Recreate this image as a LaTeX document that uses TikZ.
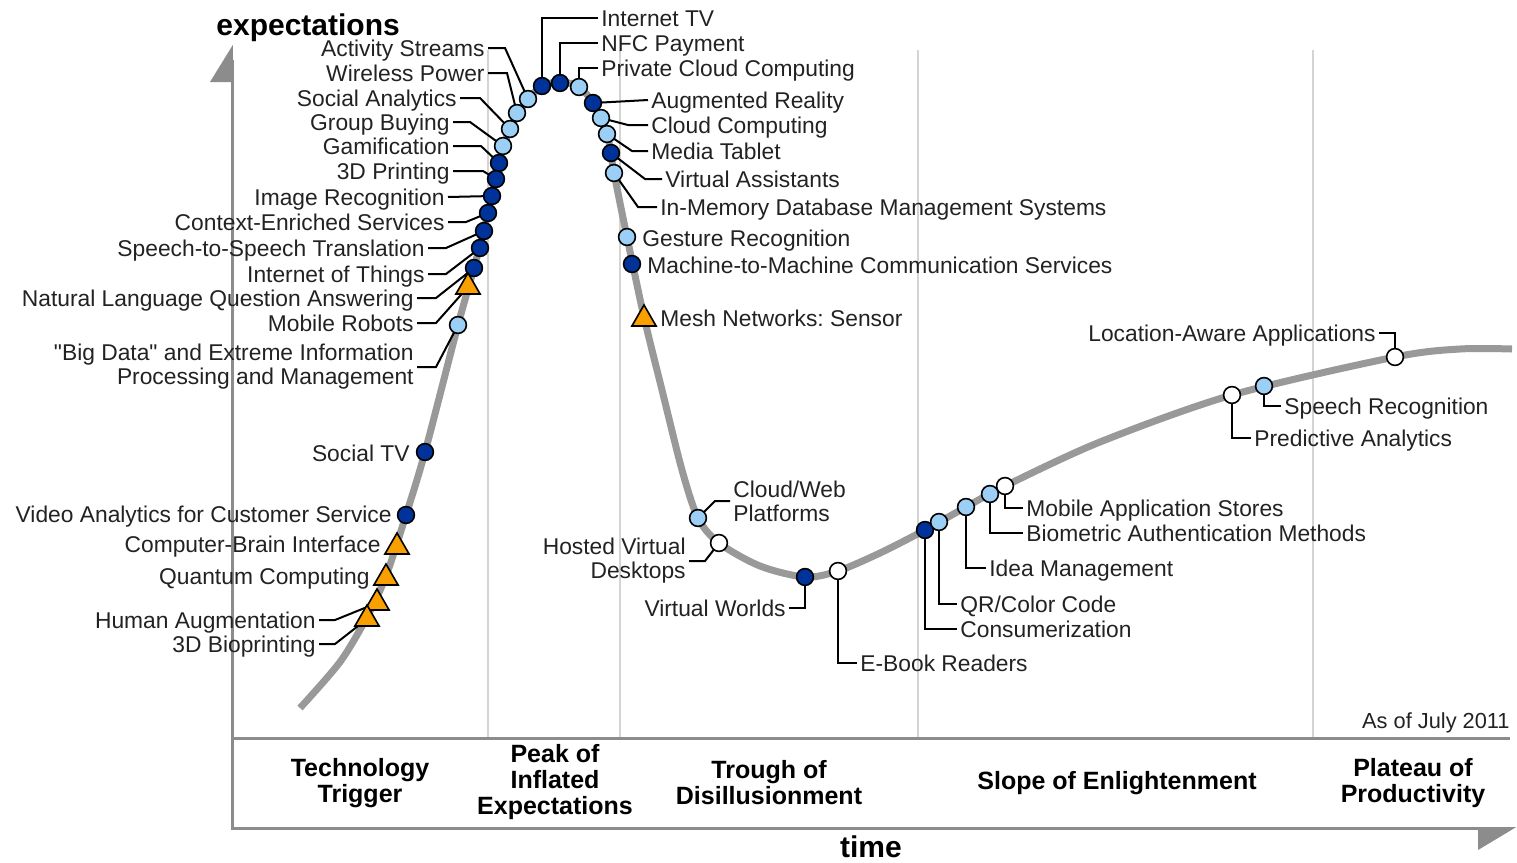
\documentclass[tikz,border=0pt]{standalone}
\usepackage{fontspec}
\setmainfont{Liberation Sans}
\usetikzlibrary{shapes.geometric}
\definecolor{dkb}{HTML}{003399}
\definecolor{ltb}{HTML}{9CCFF5}
\definecolor{org}{HTML}{F9A000}
\definecolor{crv}{HTML}{999999}
\definecolor{axc}{HTML}{8C8C8C}
\definecolor{dvc}{HTML}{D4D4D4}
\definecolor{txt}{HTML}{222222}
\pgfdeclarelayer{bg}
\pgfsetlayers{bg,main}
\frenchspacing
\tikzset{
 mk/.style={circle, draw=black, line width=0.8pt, minimum size=8.4pt, inner sep=0pt},
 dk/.style={mk, fill=dkb},
 lt/.style={mk, fill=ltb},
 wt/.style={mk, fill=white},
 tri/.style={regular polygon, regular polygon sides=3, draw=black, line width=0.8pt, fill=org, minimum size=14pt, inner sep=0pt},
 lbl/.style={font=\fontsize{11.4}{12}\selectfont, text=txt, inner xsep=1.5pt, inner ysep=0pt, text height=8.2pt, text depth=0pt},
 lbltwo/.style={font=\fontsize{11.4}{12}\selectfont, text=txt, inner xsep=1.5pt, inner ysep=0pt},
 lead/.style={draw=black, line width=1pt},
 phase/.style={font=\fontsize{12.5}{13}\selectfont\bfseries, text=black, align=center, inner sep=0pt},
 axlbl/.style={font=\fontsize{15}{18}\selectfont\bfseries, text=black, inner sep=0pt},
}
\begin{document}
\begin{tikzpicture}[x=0.5pt,y=-0.5pt]
\useasboundingbox (0,0) rectangle (1517,863);

% ---------- markers ----------
\node[lt] (mAS) at (528,99) {};
\node[lt] (mWP) at (517,113) {};
\node[lt] (mSA) at (510,129) {};
\node[lt] (mGB) at (503,146) {};
\node[dk] (mGam) at (499,163) {};
\node[dk] (m3DP) at (496,179) {};
\node[dk] (mIR) at (492,196) {};
\node[dk] (mCES) at (488,213) {};
\node[dk] (mSST) at (484,231) {};
\node[dk] (mIoT) at (480,248) {};
\node[dk] (mNLQ) at (474,268) {};
\node[tri] (mMR) at (468,287) {};
\node[lt] (mBD) at (458,325) {};
\node[dk] (mSTV) at (425,452) {};
\node[dk] (mVA) at (406,515) {};
\node[tri] (mCBI) at (397,547) {};
\node[tri] (mQC) at (386,578) {};
\node[tri] (mHA) at (377,603) {};
\node[tri] (m3BP) at (367,619) {};

\node[dk] (mITV) at (542,86) {};
\node[dk] (mNFC) at (560,83) {};
\node[lt] (mPCC) at (579,87) {};
\node[dk] (mAR) at (593,103) {};
\node[lt] (mCC) at (601,118) {};
\node[lt] (mMT) at (607,134) {};
\node[dk] (mVAs) at (611,153) {};
\node[lt] (mIMDB) at (614,173) {};
\node[lt] (mGR) at (627,237) {};
\node[dk] (mM2M) at (632,264) {};
\node[tri] (mMesh) at (644,319) {};

\node[lt] (mCWP) at (698,518) {};
\node[wt] (mHVD) at (719,543) {};
\node[dk] (mVW) at (805,577) {};
\node[wt] (mEBR) at (838,571) {};
\node[dk] (mCon) at (925,530) {};
\node[lt] (mQR) at (939,522) {};
\node[lt] (mIM) at (966,507) {};
\node[lt] (mBAM) at (990,494) {};
\node[wt] (mMAS) at (1005,486) {};
\node[wt] (mPA) at (1232,395) {};
\node[lt] (mSR) at (1264,386) {};
\node[wt] (mLAA) at (1395,357) {};

% ---------- labels (left side) ----------
\node[lbl, anchor=east] (lAS) at (488,48) {Activity Streams};
\node[lbl, anchor=east] (lWP) at (488,73) {Wireless Power};
\node[lbl, anchor=east] (lSA) at (460,98) {Social Analytics};
\node[lbl, anchor=east] (lGB) at (453,122) {Group Buying};
\node[lbl, anchor=east] (lGam) at (453,146) {Gamification};
\node[lbl, anchor=east] (l3DP) at (453,171) {3D Printing};
\node[lbl, anchor=east] (lIR) at (448,197) {Image Recognition};
\node[lbl, anchor=east] (lCES) at (448,222) {Context-Enriched Services};
\node[lbl, anchor=east] (lSST) at (428,248) {Speech-to-Speech Translation};
\node[lbl, anchor=east] (lIoT) at (428,274) {Internet of Things};
\node[lbl, anchor=east] (lNLQ) at (417,298) {Natural Language Question Answering};
\node[lbl, anchor=east] (lMR) at (417,323) {Mobile Robots};
\node[lbltwo, anchor=east, align=right] (lBD) at (417,367) {\textquotedbl Big Data\textquotedbl{} and Extreme Information\\Processing and Management};
\node[lbl, anchor=east] (lSTV) at (413,453) {Social TV};
\node[lbl, anchor=east] (lVA) at (395,514) {Video Analytics for Customer Service};
\node[lbl, anchor=east] (lCBI) at (384,544) {Computer-Brain Interface};
\node[lbl, anchor=east] (lQC) at (373,576) {Quantum Computing};
\node[lbl, anchor=east] (lHA) at (319,620) {Human Augmentation};
\node[lbl, anchor=east] (l3BP) at (319,644) {3D Bioprinting};

% ---------- labels (right side) ----------
\node[lbl, anchor=west] (lITV) at (598,18) {Internet TV};
\node[lbl, anchor=west] (lNFC) at (598,43) {NFC Payment};
\node[lbl, anchor=west] (lPCC) at (598,68) {Private Cloud Computing};
\node[lbl, anchor=west] (lAR) at (648,100) {Augmented Reality};
\node[lbl, anchor=west] (lCC) at (648,125) {Cloud Computing};
\node[lbl, anchor=west] (lMT) at (648,151) {Media Tablet};
\node[lbl, anchor=west] (lVAs) at (662,179) {Virtual Assistants};
\node[lbl, anchor=west] (lIMDB) at (657,207) {In-Memory Database Management Systems};
\node[lbl, anchor=west] (lGR) at (639,238) {Gesture Recognition};
\node[lbl, anchor=west] (lM2M) at (644,265) {Machine-to-Machine Communication Services};
\node[lbl, anchor=west] (lMesh) at (657,318) {Mesh Networks: Sensor};
\node[lbltwo, anchor=west, align=left] (lCWP) at (730,501) {Cloud/Web\\Platforms};
\node[lbltwo, anchor=east, align=right] (lHVD) at (689,561) {Hosted Virtual\\Desktops};
\node[lbl, anchor=east] (lVW) at (789,608) {Virtual Worlds};
\node[lbl, anchor=west] (lEBR) at (857,663) {E-Book Readers};
\node[lbl, anchor=west] (lQR) at (957,604) {QR/Color Code};
\node[lbl, anchor=west] (lCon) at (957,629) {Consumerization};
\node[lbl, anchor=west] (lIM) at (986,568) {Idea Management};
\node[lbl, anchor=west] (lMAS) at (1023,508) {Mobile Application Stores};
\node[lbl, anchor=west] (lBAM) at (1023,533) {Biometric Authentication Methods};
\node[lbl, anchor=west] (lSR) at (1281,406) {Speech Recognition};
\node[lbl, anchor=west] (lPA) at (1251,438) {Predictive Analytics};
\node[lbl, anchor=east] (lLAA) at (1379,333) {Location-Aware Applications};

% ---------- axis texts and phases ----------
\node[axlbl, anchor=base west] (ylab) at (216,35) {expectations};
\node[axlbl, anchor=base] (xlab) at (871,857) {time};
\node[font=\fontsize{10.9}{12}\selectfont, text=txt, anchor=base east, inner sep=0pt] (asof) at (1510,728) {As of July 2011};
\node[phase] (pTT) at (360,783) {Technology\\Trigger};
\node[phase] (pPI) at (555,782) {Peak of\\Inflated\\Expectations};
\node[phase] (pTD) at (769,783) {Trough of\\Disillusionment};
\node[phase] (pSE) at (1117,783) {Slope of Enlightenment};
\node[phase] (pPP) at (1413,783) {Plateau of\\Productivity};

\begin{pgfonlayer}{bg}
% dividers
\foreach \xx in {488,620,918,1313} \draw[dvc, line width=1pt] (\xx,50) -- (\xx,738);
% axes
\draw[axc, line width=1.5pt] (232,828) -- (232,60);
\fill[axc] (232.8,45) -- (210,82) -- (232.8,82) -- cycle;
\draw[axc, line width=1.5pt] (231,828) -- (1490,828);
\fill[axc] (1478,827.2) -- (1516,827.2) -- (1478,850) -- cycle;
\draw[axc, line width=1.5pt] (232,738) -- (1510,738);
% hype curve
\draw[crv, line width=3.5pt, line cap=butt] plot[smooth, tension=0.5] coordinates {(300,708) (340,662) (367,617) (386,576) (406,515) (425,452) (458,325) (474,268) (488,213) (499,163) (510,129) (528,99) (545,85) (562,82) (579,87) (593,103) (607,134) (614,173) (627,237) (644,317) (662,390) (682,470) (698,518) (719,543) (760,566) (805,577) (838,571) (880,553) (925,530) (966,507) (1005,486) (1100,442) (1232,395) (1395,357) (1460,349) (1512,349)};
% leaders left
\draw[lead] (lAS.east) -- ++(17,0) -- (mAS.center);
\draw[lead] (lWP.east) -- ++(19,0) -- (mWP.center);
\draw[lead] (lSA.east) -- ++(20,0) -- (mSA.center);
\draw[lead] (lGB.east) -- ++(17,0) -- (mGB.center);
\draw[lead] (lGam.east) -- ++(28,0) -- (mGam.center);
\draw[lead] (l3DP.east) -- ++(30,0) -- (m3DP.center);
\draw[lead] (lIR.east) -- (mIR.center);
\draw[lead] (lCES.east) -- ++(18,0) -- (mCES.center);
\draw[lead] (lSST.east) -- ++(18,0) -- (mSST.center);
\draw[lead] (lIoT.east) -- ++(18,0) -- (mIoT.center);
\draw[lead] (lNLQ.east) -- ++(19,0) -- (mNLQ.center);
\draw[lead] (lMR.east) -- ++(19,0) -- (mMR.center);
\draw[lead] (lBD.east) -- ++(19,0) -- (mBD.center);
\draw[lead] (lHA.east) -- ++(16,0) -- (mHA.center);
\draw[lead] (l3BP.east) -- ++(16,0) -- (m3BP.center);
% leaders right
\draw[lead] (mITV.center) |- (lITV.west);
\draw[lead] (mNFC.center) |- (lNFC.west);
\draw[lead] (mPCC.center) |- (lPCC.west);
\draw[lead] (mAR.center) -- (lAR.west);
\draw[lead] (lCC.west) -- ++(-20,0) -- (mCC.center);
\draw[lead] (lMT.west) -- ++(-16,0) -- (mMT.center);
\draw[lead] (lVAs.west) -- ++(-17,0) -- (mVAs.center);
\draw[lead] (lIMDB.west) -- ++(-19,0) -- (mIMDB.center);
\draw[lead] (lCWP.west) -- ++(-15,0) -- (mCWP.center);
\draw[lead] (lHVD.east) -- ++(16,0) -- (mHVD.center);
\draw[lead] (mVW.center) |- (lVW.east);
\draw[lead] (mEBR.center) |- (lEBR.west);
\draw[lead] (mCon.center) |- (lCon.west);
\draw[lead] (mQR.center) |- (lQR.west);
\draw[lead] (mIM.center) |- (lIM.west);
\draw[lead] (mBAM.center) |- (lBAM.west);
\draw[lead] (mMAS.center) |- (lMAS.west);
\draw[lead] (mPA.center) |- (lPA.west);
\draw[lead] (mSR.center) |- (lSR.west);
\draw[lead] (mLAA.center) |- (lLAA.east);
\end{pgfonlayer}
\end{tikzpicture}
\end{document}
